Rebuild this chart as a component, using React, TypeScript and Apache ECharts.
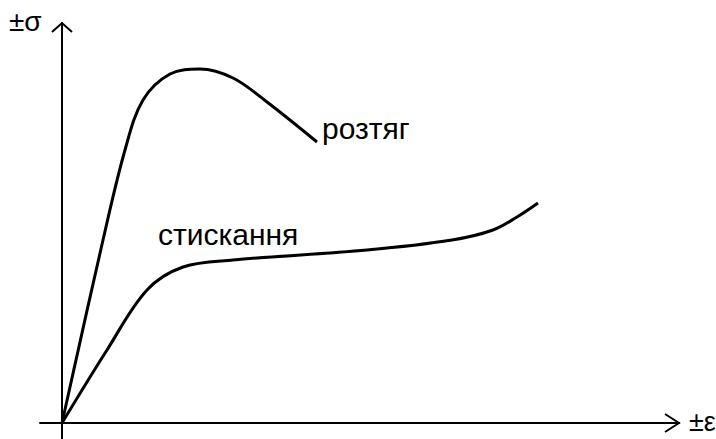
import React, { useEffect, useRef } from "react";
import * as echarts from "echarts";

// Strain (ε) and stress (σ) in plot units, origin at the axes' crossing
const tensionStrain = [0, 41, 63, 81, 108, 138, 171, 205, 255];
const tensionStress = [0, 183, 273, 323, 349, 354, 345, 321, 281];

const compressionStrain = [0, 45, 85, 121, 171, 305, 390, 431, 455, 476];
const compressionStress = [0, 73, 133, 156, 163, 173, 183, 193, 206, 220];

const X_MIN = -22;
const X_MAX = 617;
const Y_MIN = -16;
const Y_MAX = 400;

const zip = (xs: number[], ys: number[]) => xs.map((x, i) => [x, ys[i]]);

export default function App() {
  const ref = useRef<HTMLDivElement>(null);

  useEffect(() => {
    if (!ref.current) return;
    const chart = echarts.init(ref.current, null, { renderer: "svg" });
    const font = "Liberation Sans, Arial, sans-serif";
    const lineStyle = { color: "#000", width: 3 };

    chart.setOption({
      animation: false,
      backgroundColor: "#fff",
      grid: { left: 40, right: 37, top: 23, bottom: 0 },
      xAxis: {
        type: "value",
        min: X_MIN,
        max: X_MAX,
        axisLine: { show: true, onZero: true, lineStyle: { color: "#000", width: 2 } },
        axisTick: { show: false },
        axisLabel: { show: false },
        splitLine: { show: false },
      },
      yAxis: {
        type: "value",
        min: Y_MIN,
        max: Y_MAX,
        axisLine: { show: true, onZero: true, lineStyle: { color: "#000", width: 2 } },
        axisTick: { show: false },
        axisLabel: { show: false },
        splitLine: { show: false },
      },
      series: [
        {
          name: "розтяг",
          type: "line",
          data: zip(tensionStrain, tensionStress),
          smooth: 0.35,
          showSymbol: false,
          lineStyle,
        },
        {
          name: "стискання",
          type: "line",
          data: zip(compressionStrain, compressionStress),
          smooth: 0.35,
          showSymbol: false,
          lineStyle,
        },
      ],
    });

    // Open arrowheads at the ends of both axes
    const xTip = chart.convertToPixel({ xAxisIndex: 0, yAxisIndex: 0 }, [X_MAX, 0]) as number[];
    const yTip = chart.convertToPixel({ xAxisIndex: 0, yAxisIndex: 0 }, [0, Y_MAX]) as number[];
    const arrowStyle = { stroke: "#000", lineWidth: 2, fill: "none" };

    chart.setOption({
      graphic: [
        {
          type: "polyline",
          shape: { points: [[xTip[0] - 14, xTip[1] - 9], [xTip[0], xTip[1]], [xTip[0] - 14, xTip[1] + 9]] },
          style: arrowStyle,
        },
        {
          type: "polyline",
          shape: { points: [[yTip[0] - 10, yTip[1] + 9], [yTip[0], yTip[1]], [yTip[0] + 10, yTip[1] + 9]] },
          style: arrowStyle,
        },
        {
          type: "text",
          x: 9,
          y: 7,
          style: { text: "±σ", font: `28px ${font}`, fill: "#000" },
        },
        {
          type: "text",
          x: 689,
          y: 408,
          style: { text: "±ε", font: `27px ${font}`, fill: "#000" },
        },
        {
          type: "text",
          x: 322,
          y: 113,
          style: { text: "розтяг", font: `30px ${font}`, fill: "#000" },
        },
        {
          type: "text",
          x: 158,
          y: 219,
          style: { text: "стискання", font: `30px ${font}`, fill: "#000" },
        },
      ],
    });

    return () => chart.dispose();
  }, []);

  return (
    <div
      ref={ref}
      style={{ position: "absolute", left: 0, top: 0, width: 716, height: 439 }}
    />
  );
}
